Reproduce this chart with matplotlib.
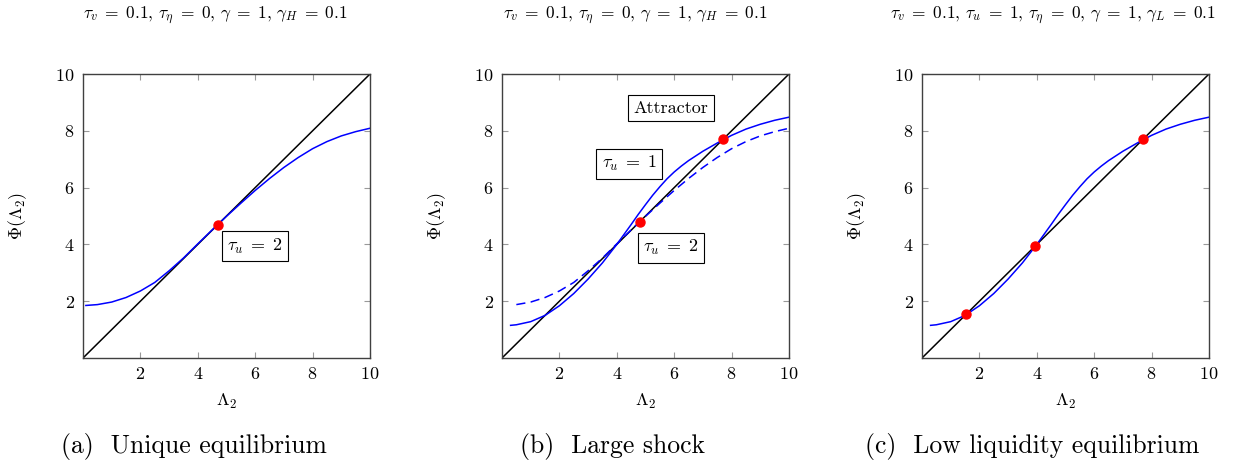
import matplotlib
matplotlib.use("Agg")
import matplotlib.pyplot as plt

plt.rcParams['font.family'] = 'serif'
plt.rcParams['font.serif'] = ['cmr10']
plt.rcParams['mathtext.fontset'] = 'cm'
plt.rcParams['axes.unicode_minus'] = False
plt.rcParams['axes.formatter.use_mathtext'] = True

# fixed-point map for tau_u = 2 (panel a, dashed in panel b)
tau2_x = [0.1, 0.5, 1.0, 1.5, 2.0, 2.5, 3.0, 3.5, 4.0, 4.5, 5.0,
          5.5, 6.0, 6.5, 7.0, 7.5, 8.0, 8.5, 9.0, 9.5, 10.0]
tau2_y = [1.85, 1.88, 1.97, 2.13, 2.36, 2.66, 3.07, 3.52, 4.02, 4.51, 4.99,
          5.45, 5.90, 6.32, 6.71, 7.06, 7.37, 7.62, 7.82, 7.97, 8.09]

# fixed-point map for tau_u = 1 (panels b and c)
tau1_x = [0.3, 0.5, 1.0, 1.5, 2.0, 2.5, 3.0, 3.5, 4.0, 4.5, 4.75, 5.0, 5.25,
          5.5, 5.75, 6.0, 6.25, 6.5, 7.0, 7.5, 8.0, 8.5, 9.0, 9.5, 10.0]
tau1_y = [1.15, 1.17, 1.28, 1.50, 1.84, 2.27, 2.78, 3.35, 4.00, 4.70, 5.06, 5.40, 5.73,
          6.03, 6.31, 6.55, 6.76, 6.95, 7.28, 7.57, 7.84, 8.06, 8.23, 8.37, 8.48]

diag = [0, 10]

eq_a = [4.7]
eq_b = [4.8, 7.7]
eq_c = [1.55, 3.95, 7.7]

ticks = [2, 4, 6, 8, 10]

titles = [
    r'$\tau_v \;=\; 0.1$, $\tau_\eta \;=\; 0$, $\gamma \;=\; 1$, $\gamma_H \;=\; 0.1$',
    r'$\tau_v \;=\; 0.1$, $\tau_\eta \;=\; 0$, $\gamma \;=\; 1$, $\gamma_H \;=\; 0.1$',
    r'$\tau_v \;=\; 0.1$, $\tau_u \;=\; 1$, $\tau_\eta \;=\; 0$, $\gamma \;=\; 1$, $\gamma_L \;=\; 0.1$',
]
captions = ['(a)  Unique equilibrium', '(b)  Large shock', '(c)  Low liquidity equilibrium']

W, H = 1235, 468
fig = plt.figure(figsize=(W / 100, H / 100), dpi=100)

lefts = [83, 502, 922]
axw, axh = 287, 284
axbottom = 358
axes = []
for l in lefts:
    ax = fig.add_axes([l / W, (H - axbottom) / H, axw / W, axh / H])
    axes.append(ax)

box = dict(boxstyle='square,pad=0.3', fc='white', ec='black', lw=0.8)
lw = 1.1
fs = 13

for i, ax in enumerate(axes):
    ax.set_xlim(0, 10)
    ax.set_ylim(0, 10)
    ax.set_xticks(ticks)
    ax.set_yticks(ticks)
    ax.tick_params(direction='in', top=True, right=True, length=4.5,
                   width=0.8, color='#999999', labelsize=fs, pad=6)
    for s in ax.spines.values():
        s.set_color('#404040')
        s.set_linewidth(1.0)
    ax.set_xlabel(r'$\Lambda_2$', fontsize=fs, labelpad=7)
    ax.set_ylabel(r'$\Phi(\Lambda_2)$', fontsize=fs, labelpad=19)
    ax.plot(diag, diag, color='black', lw=lw)

# (a) unique equilibrium
ax = axes[0]
ax.plot(tau2_x, tau2_y, color='blue', lw=lw)
ax.plot(eq_a, eq_a, 'o', color='red', ms=6.5, zorder=5)
ax.text(6.0, 3.94, r'$\tau_u \;=\; 2$', fontsize=fs, ha='center', va='center', bbox=box)

# (b) large shock
ax = axes[1]
ax.plot(tau2_x[1:], tau2_y[1:], color='blue', lw=lw, dashes=(6, 3.5))
ax.plot(tau1_x, tau1_y, color='blue', lw=lw)
ax.plot(eq_b, eq_b, 'o', color='red', ms=6.5, zorder=5)
ax.text(5.9, 8.8, 'Attractor', fontsize=fs, ha='center', va='center', bbox=box)
ax.text(4.43, 6.84, r'$\tau_u \;=\; 1$', fontsize=fs, ha='center', va='center', bbox=box)
ax.text(5.88, 3.88, r'$\tau_u \;=\; 2$', fontsize=fs, ha='center', va='center', bbox=box)

# (c) low liquidity equilibrium
ax = axes[2]
ax.plot(tau1_x, tau1_y, color='blue', lw=lw)
ax.plot(eq_c, eq_c, 'o', color='red', ms=6.5, zorder=5)

title_x = [215, 635, 1053]
caption_x = [194, 613, 1032]
for i in range(3):
    fig.text(title_x[i] / W, 1 - 15 / H, titles[i], fontsize=12.5, ha='center', va='center')
    fig.text(caption_x[i] / W, 1 - 447 / H, captions[i], fontsize=18.5, ha='center', va='center')

fig.savefig('out.png', dpi=100)
